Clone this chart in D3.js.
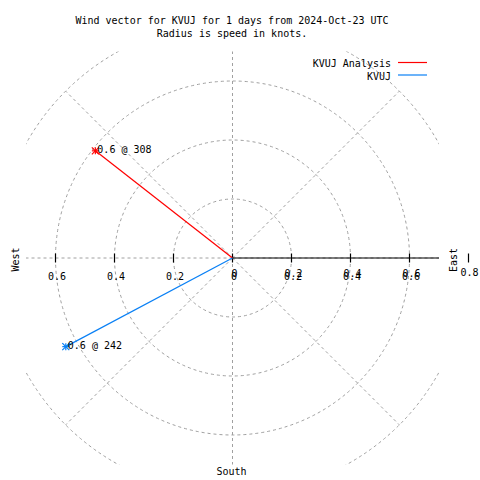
<!DOCTYPE html>
<html><head><meta charset="utf-8">
<script src="https://cdn.jsdelivr.net/npm/d3@7"></script>
<style>
html,body{margin:0;padding:0;background:#fff;}
text{font-family:"DejaVu Sans Mono",monospace;font-size:10px;fill:#000;}
</style></head>
<body><svg id="c" width="480" height="480"></svg>
<script>
const titleLines = ["Wind vector for KVUJ for 1 days from 2024-Oct-23 UTC", "Radius is speed in knots."];
const seriesNames = ["KVUJ Analysis", "KVUJ"];
const seriesColors = ["#ff0000", "#0a80f5"];
const speeds = [0.59, 0.64];
const directions = [308, 242];
const speedLabels = ["0.6", "0.6"];
const gridRadii = [0.2, 0.4, 0.6, 0.8];
const gridAngles = [0, 45, 90, 135, 180, 225, 270, 315];
const tickValues = [0.2, 0.4, 0.6];
const tickLabels = ["0.2", "0.4", "0.6"];
const rangeMax = 0.7;

const svg = d3.select("#c");
const cx = 232.5, cy = 258;
const r = d3.scaleLinear().domain([0, rangeMax]).range([0, 206.5]);
const x = d3.scaleLinear().domain([-rangeMax, rangeMax]).range([cx - 206.5, cx + 206.5]);
const y = d3.scaleLinear().domain([-rangeMax, rangeMax]).range([cy + 206.5, cy - 206.5]);

svg.append("rect").attr("width", 480).attr("height", 480).attr("fill", "#fff");
svg.append("clipPath").attr("id", "plot").append("rect")
  .attr("x", x(-rangeMax)).attr("y", y(rangeMax))
  .attr("width", x(rangeMax) - x(-rangeMax)).attr("height", y(-rangeMax) - y(rangeMax));

// title
svg.selectAll("text.title").data(titleLines).join("text")
  .attr("x", 232).attr("y", (d, i) => 24 + i * 12.5).attr("text-anchor", "middle").text(d => d);

const g = svg.append("g").attr("clip-path", "url(#plot)");
const gridStyle = s => s.attr("fill", "none").attr("stroke", "#a0a0a0").attr("stroke-width", 1).attr("stroke-dasharray", "3,3");

g.selectAll("circle.grid").data(gridRadii).join("circle")
  .attr("cx", cx).attr("cy", cy).attr("r", d => r(d)).call(gridStyle);

const toXY = (spd, dir) => {
  const a = dir * Math.PI / 180;
  return [cx + r(spd) * Math.sin(a), cy - r(spd) * Math.cos(a)];
};
g.selectAll("line.radial").data(gridAngles).join("line")
  .attr("x1", cx).attr("y1", cy)
  .attr("x2", d => toXY(0.8, d)[0]).attr("y2", d => toXY(0.8, d)[1])
  .call(gridStyle);

// polar axis (east, solid)
svg.append("line").attr("x1", cx).attr("y1", cy).attr("x2", x(rangeMax)).attr("y2", cy)
  .attr("stroke", "#000").attr("stroke-width", 1.2);

// ticks
const allTicks = [0].concat(tickValues.map(v => -v), tickValues);
svg.selectAll("line.tick").data(allTicks.concat([0.8])).join("line")
  .attr("x1", d => x(d)).attr("x2", d => x(d))
  .attr("y1", cy - 4.5).attr("y2", cy + 4.5)
  .attr("stroke", "#000").attr("stroke-width", 1.2);

// left labels
svg.selectAll("text.lt").data(tickValues).join("text")
  .attr("x", d => x(-d) + 1.5).attr("y", 279.5).attr("text-anchor", "middle")
  .text((d, i) => tickLabels[i]);
// right labels (doubled, overlapping)
const rightVals = [0].concat(tickValues);
const rightLabs = ["0"].concat(tickLabels);
[0, -3].forEach(off => {
  svg.selectAll("text.rt" + (off ? "b" : "a")).data(rightVals).join("text")
    .attr("x", d => x(d) + 1.5 + (off ? 0.6 : 0)).attr("y", 279.5 + off).attr("text-anchor", "middle")
    .text((d, i) => rightLabs[i]);
});
svg.append("text").attr("x", x(0.8) + 1).attr("y", 276).attr("text-anchor", "middle").text("0.8");

// compass labels
svg.append("text").attr("transform", "translate(18.5,259.5) rotate(-90)").attr("text-anchor", "middle").text("West");
svg.append("text").attr("transform", "translate(457,260) rotate(-90)").attr("text-anchor", "middle").text("East");
svg.append("text").attr("x", 231.5).attr("y", 475).attr("text-anchor", "middle").text("South");

// vectors
const data = seriesNames.map((n, i) => ({name: n, color: seriesColors[i], spd: speeds[i], dir: directions[i], lab: speedLabels[i]}));
const vg = svg.append("g");
data.forEach(d => {
  const [px, py] = toXY(d.spd, d.dir);
  vg.append("line").attr("x1", cx).attr("y1", cy).attr("x2", px).attr("y2", py)
    .attr("stroke", d.color).attr("stroke-width", 1.2);
  const s = 3.5;
  [[-s, 0, s, 0], [0, -s, 0, s], [-s, -s, s, s], [-s, s, s, -s]].forEach(p => {
    vg.append("line").attr("x1", px + p[0]).attr("y1", py + p[1]).attr("x2", px + p[2]).attr("y2", py + p[3])
      .attr("stroke", d.color).attr("stroke-width", 1.2);
  });
  vg.append("text").attr("x", px + 2).attr("y", py + 2).text(d.lab + " @ " + d.dir);
});

// legend
data.forEach((d, i) => {
  const ly = 62.5 + i * 12.5;
  svg.append("text").attr("x", 391).attr("y", ly + 4.5).attr("text-anchor", "end").text(d.name);
  svg.append("line").attr("x1", 398).attr("x2", 427).attr("y1", ly).attr("y2", ly)
    .attr("stroke", d.color).attr("stroke-width", 1.2);
});
</script></body></html>
